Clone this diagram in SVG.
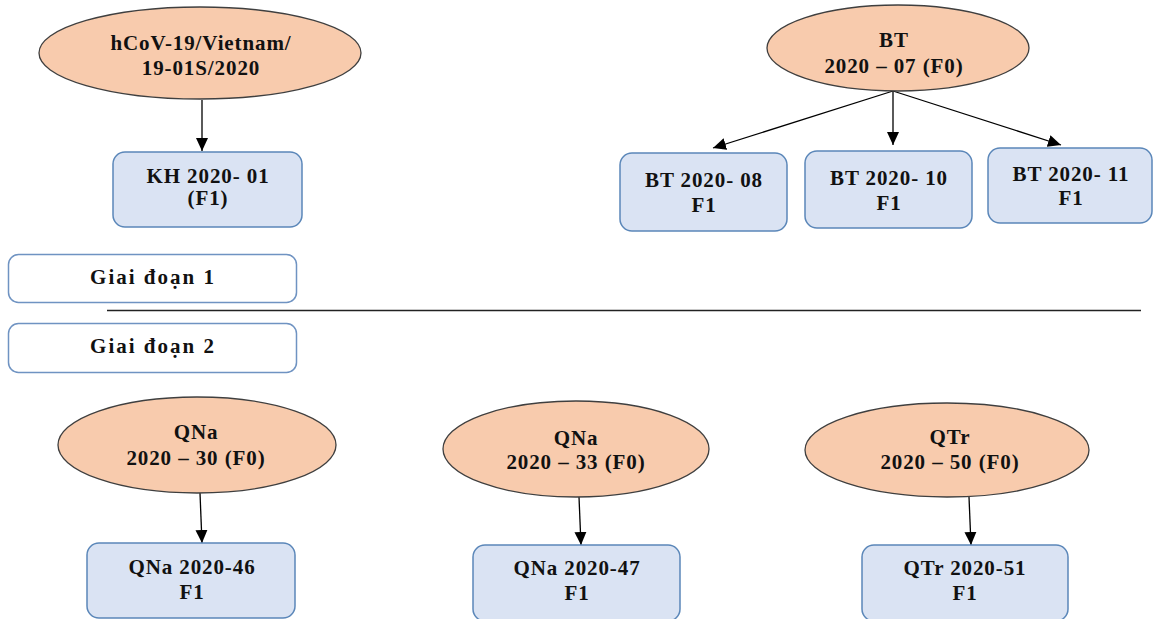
<svg xmlns="http://www.w3.org/2000/svg" width="1156" height="619" viewBox="0 0 1156 619">
<style>
  .ell { fill: #f8cbad; stroke: #3f3f3f; stroke-width: 1.3; }
  .box { fill: #dae3f3; stroke: #5b87b9; stroke-width: 1.5; }
  .stage { fill: #ffffff; stroke: #6f93c2; stroke-width: 1.5; }
  .t { font-family: "Liberation Serif", "Times New Roman", serif; font-weight: bold; font-size: 21px; fill: #111; text-anchor: middle; letter-spacing: 0.9px; }
  .tg { letter-spacing: 2px; }
  .conn { stroke: #000; stroke-width: 1.3; fill: none; marker-end: url(#arr); }
</style>
<defs>
  <marker id="arr" markerUnits="userSpaceOnUse" markerWidth="14" markerHeight="14" viewBox="0 0 14 14" refX="13" refY="7" orient="auto">
    <path d="M0,1 L13,7 L0,13 Z" fill="#000"/>
  </marker>
</defs>
<rect width="1156" height="619" fill="#ffffff"/>

<g id="connectors">
  <line class="conn" x1="202" y1="100" x2="202" y2="151"/>
  <line class="conn" x1="893" y1="91" x2="713" y2="148"/>
  <line class="conn" x1="893" y1="91" x2="893" y2="145"/>
  <line class="conn" x1="893" y1="91" x2="1061" y2="145"/>
  <line class="conn" x1="200" y1="493" x2="202" y2="543"/>
  <line class="conn" x1="579" y1="497" x2="581" y2="545"/>
  <line class="conn" x1="969" y1="497" x2="971" y2="545"/>
  <line x1="107" y1="310.500" x2="1141" y2="310.500" stroke="#222" stroke-width="1.5"/>
</g>

<g id="n-hcov">
  <ellipse class="ell" cx="200" cy="53" rx="161" ry="46"/>
  <text class="t" x="201" y="50">hCoV-19/Vietnam/</text>
  <text class="t" x="201" y="75">19-01S/2020</text>
</g>
<g id="n-kh">
  <rect class="box" x="113" y="152" width="189" height="75" rx="12"/>
  <text class="t" x="208" y="183">KH 2020- 01</text>
  <text class="t" x="208" y="205">(F1)</text>
</g>

<g id="n-bt07">
  <ellipse class="ell" cx="898" cy="48" rx="131" ry="43"/>
  <text class="t" x="894" y="47">BT</text>
  <text class="t" x="894" y="73">2020 – 07 (F0)</text>
</g>
<g id="n-bt08">
  <rect class="box" x="620" y="153" width="167" height="78" rx="12"/>
  <text class="t" x="704" y="187">BT 2020- 08</text>
  <text class="t" x="704" y="212">F1</text>
</g>
<g id="n-bt10">
  <rect class="box" x="805" y="151" width="167" height="77" rx="12"/>
  <text class="t" x="889" y="185">BT 2020- 10</text>
  <text class="t" x="889" y="210">F1</text>
</g>
<g id="n-bt11">
  <rect class="box" x="988" y="148" width="164" height="75" rx="12"/>
  <text class="t" x="1071" y="181">BT 2020- 11</text>
  <text class="t" x="1071" y="205">F1</text>
</g>

<g id="n-stage1">
  <rect class="stage" x="8.500" y="254.500" width="288" height="48" rx="10"/>
  <text class="t tg" x="153" y="284">Giai đoạn 1</text>
</g>
<g id="n-stage2">
  <rect class="stage" x="8.500" y="323.500" width="288" height="49" rx="10"/>
  <text class="t tg" x="153" y="353">Giai đoạn 2</text>
</g>

<g id="n-qna30">
  <ellipse class="ell" cx="197" cy="445" rx="139" ry="48"/>
  <text class="t" x="196" y="439">QNa</text>
  <text class="t" x="196" y="465">2020 – 30 (F0)</text>
</g>
<g id="n-qna46">
  <rect class="box" x="87" y="543" width="208" height="75" rx="12"/>
  <text class="t" x="192" y="574">QNa 2020-46</text>
  <text class="t" x="192" y="599">F1</text>
</g>

<g id="n-qna33">
  <ellipse class="ell" cx="576" cy="449" rx="133" ry="48"/>
  <text class="t" x="576" y="445">QNa</text>
  <text class="t" x="576" y="469">2020 – 33 (F0)</text>
</g>
<g id="n-qna47">
  <rect class="box" x="473" y="545" width="207" height="76" rx="12"/>
  <text class="t" x="577" y="575">QNa 2020-47</text>
  <text class="t" x="577" y="600">F1</text>
</g>

<g id="n-qtr50">
  <ellipse class="ell" cx="947" cy="450" rx="142" ry="47"/>
  <text class="t" x="950" y="444">QTr</text>
  <text class="t" x="950" y="469">2020 – 50 (F0)</text>
</g>
<g id="n-qtr51">
  <rect class="box" x="862" y="545" width="206" height="76" rx="12"/>
  <text class="t" x="965" y="575">QTr 2020-51</text>
  <text class="t" x="965" y="600">F1</text>
</g>
</svg>
